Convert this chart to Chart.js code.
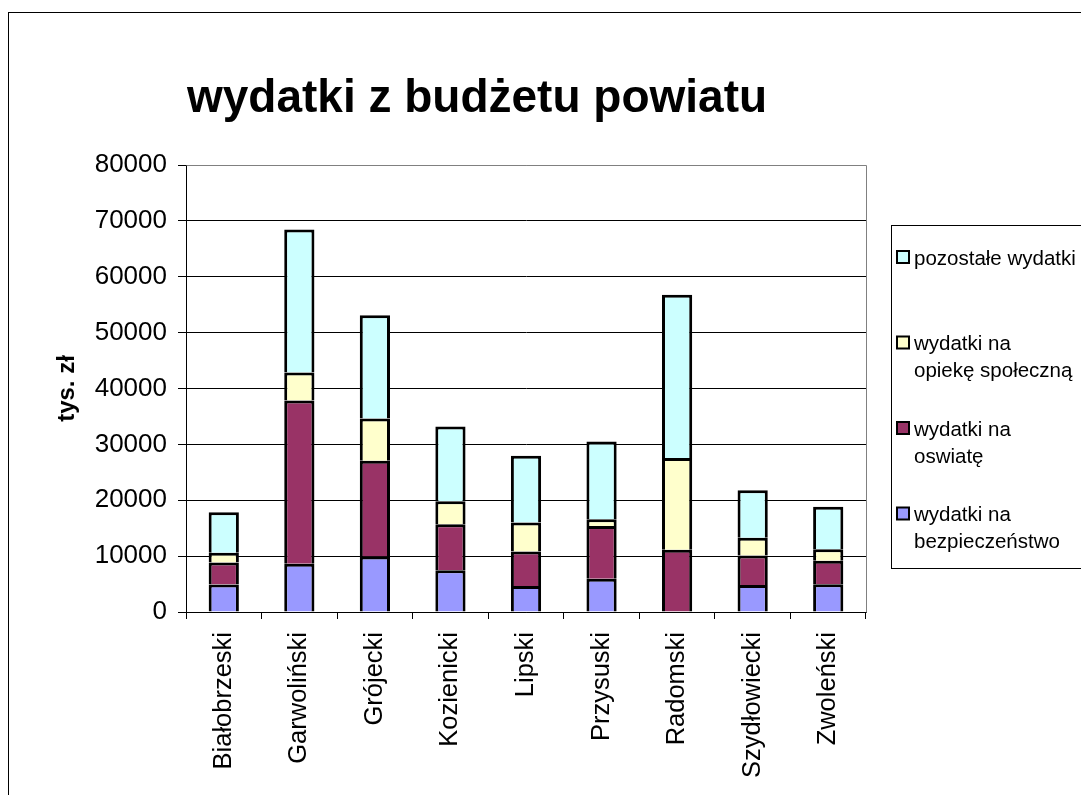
<!DOCTYPE html>
<html>
<head>
<meta charset="utf-8">
<script src="https://cdn.jsdelivr.net/npm/chart.js@4.4.1/dist/chart.umd.min.js"></script>
<style>
  html, body { margin: 0; padding: 0; background: #fff; }
</style>
</head>
<body>
<canvas id="chart" width="1081" height="795"></canvas>
<script>
'use strict';

var fontFamily = "'Liberation Sans', Arial, sans-serif";

var categories = ['Białobrzeski', 'Garwoliński', 'Grójecki', 'Kozienicki', 'Lipski',
  'Przysuski', 'Radomski', 'Szydłowiecki', 'Zwoleński'];
var bezpieczenstwo = [4900, 8650, 9950, 7450, 4650, 5950, 0, 4850, 4950];
var oswiata = [3950, 29200, 17100, 8250, 6200, 9450, 11150, 5250, 4200];
var opieka = [1750, 5000, 7600, 4100, 5150, 1200, 16400, 3200, 2100];
var pozostale = [7250, 25600, 18450, 13400, 11950, 13900, 29250, 8500, 7600];
var seriesNames = [
  ['wydatki na', 'bezpieczeństwo'],
  ['wydatki na', 'oswiatę'],
  ['wydatki na', 'opiekę społeczną'],
  ['pozostałe wydatki']
];
var seriesColors = ['#9999FF', '#993366', '#FFFFCC', '#CCFFFF'];
var yTicks = [0, 10000, 20000, 30000, 40000, 50000, 60000, 70000, 80000];
var chartTitle = 'wydatki z budżetu powiatu';
var yTitle = 'tys. zł';

var seriesData = [bezpieczenstwo, oswiata, opieka, pozostale];

// frame, title, plot border and legend are drawn by hand
var decorations = {
  id: 'decorations',
  beforeDraw: function (chart) {
    var ctx = chart.ctx;
    ctx.save();
    ctx.fillStyle = '#fff';
    ctx.fillRect(0, 0, chart.width, chart.height);
    ctx.strokeStyle = '#000';
    ctx.lineWidth = 1;
    ctx.strokeRect(8.5, 12.5, 1400, 1400);
    ctx.restore();
  },
  beforeDatasetsDraw: function (chart) {
    var ctx = chart.ctx;
    var a = chart.chartArea;
    ctx.save();
    ctx.strokeStyle = '#808080';
    ctx.lineWidth = 1;
    ctx.beginPath();
    ctx.moveTo(Math.round(a.left) + 0.5, Math.round(a.top) + 0.5);
    ctx.lineTo(Math.round(a.right) + 0.5, Math.round(a.top) + 0.5);
    ctx.lineTo(Math.round(a.right) + 0.5, Math.round(a.bottom) + 0.5);
    ctx.stroke();
    ctx.restore();
  },
  afterDraw: function (chart) {
    var ctx = chart.ctx;
    ctx.save();
    ctx.fillStyle = '#000';
    ctx.font = 'bold 46px ' + fontFamily;
    ctx.textAlign = 'center';
    ctx.textBaseline = 'alphabetic';
    ctx.fillText(chartTitle, 477, 112);

    // legend box
    ctx.strokeStyle = '#000';
    ctx.lineWidth = 1;
    ctx.strokeRect(891.5, 225.5, 400, 343);
    ctx.font = '20.5px ' + fontFamily;
    ctx.textAlign = 'left';
    ctx.textBaseline = 'middle';
    var y = 257;
    for (var i = seriesNames.length - 1; i >= 0; i--) {
      ctx.fillStyle = seriesColors[i];
      ctx.fillRect(897, y - 6, 12, 12);
      ctx.lineWidth = 2;
      ctx.strokeRect(897, y - 6, 12, 12);
      ctx.fillStyle = '#000';
      var lines = seriesNames[i];
      for (var j = 0; j < lines.length; j++) {
        ctx.fillText(lines[j], 914, y + 2 + j * 27);
      }
      y += 85.5;
    }
    ctx.restore();
  }
};

new Chart(document.getElementById('chart'), {
  type: 'bar',
  data: {
    labels: categories,
    datasets: seriesData.map(function (values, i) {
      return {
        label: seriesNames[i].join(' '),
        data: values,
        backgroundColor: seriesColors[i],
        borderColor: '#000',
        borderWidth: 3,
        borderSkipped: 'bottom',
        categoryPercentage: 1,
        barPercentage: 0.4
      };
    })
  },
  options: {
    responsive: false,
    animation: false,
    devicePixelRatio: 1,
    layout: { padding: { top: 165, right: 215, bottom: 0, left: 49 } },
    plugins: {
      legend: { display: false },
      title: { display: false },
      tooltip: { enabled: false }
    },
    scales: {
      x: {
        stacked: true,
        afterFit: function (scale) { scale.height = 183; },
        grid: {
          offset: true,
          drawOnChartArea: false,
          drawTicks: true,
          tickLength: 7,
          color: '#000'
        },
        border: { display: true, color: '#000', width: 1 },
        ticks: {
          minRotation: 90,
          maxRotation: 90,
          autoSkip: false,
          padding: 13,
          color: '#000',
          font: { family: fontFamily, size: 25.5 }
        }
      },
      y: {
        stacked: true,
        min: 0,
        max: 80000,
        afterFit: function (scale) { scale.width = 137; },
        afterBuildTicks: function (scale) {
          scale.ticks = yTicks.map(function (v) { return { value: v }; });
        },
        grid: {
          color: function (c) { return c.tick && c.tick.value === 80000 ? '#808080' : '#000'; },
          tickColor: '#000',
          tickLength: 8,
          lineWidth: 1
        },
        border: { display: true, color: '#000', width: 1 },
        title: {
          display: true,
          text: yTitle,
          color: '#000',
          font: { family: fontFamily, size: 24, weight: 'bold' },
          padding: { top: 4, bottom: 4 }
        },
        ticks: {
          padding: 11,
          color: '#000',
          font: { family: fontFamily, size: 26 },
          callback: function (v) { return String(v); }
        }
      }
    }
  },
  plugins: [decorations]
});
</script>
</body>
</html>
